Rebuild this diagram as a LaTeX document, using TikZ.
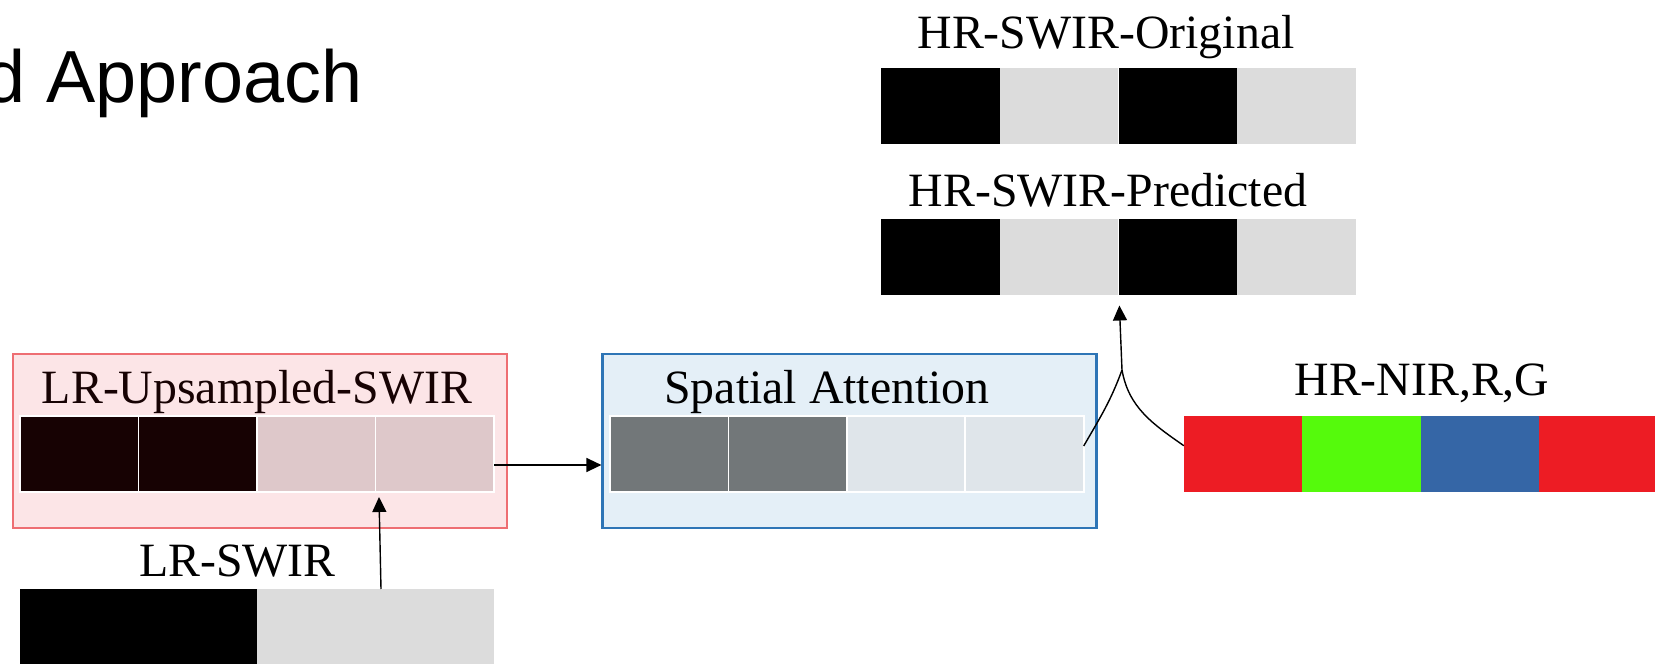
\documentclass[tikz,border=0pt]{standalone}
\usepackage{fontspec}
\setmainfont{Liberation Serif}
\newfontfamily\headfont{Liberation Sans}
\usetikzlibrary{arrows.meta,positioning,calc,fit}
\definecolor{LrDark}{HTML}{170203}
\definecolor{LrLight}{HTML}{DEC8CA}
\definecolor{LrFill}{HTML}{FCE5E7}
\definecolor{LrEdge}{HTML}{EE6E73}
\definecolor{SaDark}{HTML}{727779}
\definecolor{SaLight}{HTML}{DFE5EA}
\definecolor{SaFill}{HTML}{E4EFF7}
\definecolor{SaEdge}{HTML}{2E75B6}
\definecolor{HrGrey}{HTML}{DCDCDC}
\definecolor{NirRed}{HTML}{ED1C24}
\definecolor{NirGreen}{HTML}{55FA0C}
\definecolor{NirBlue}{HTML}{3566A6}
\tikzset{
  pix/.style={minimum width=11.85mm,minimum height=7.6mm,inner sep=0pt,outer sep=0pt,anchor=north west},
  sep/.style={draw=white,line width=0.5pt},
  lrpanel/.style={draw=LrEdge,fill=LrFill,line width=0.6pt,minimum width=49.4mm,minimum height=17.4mm,inner sep=0pt,anchor=north west},
  sapanel/.style={draw=SaEdge,fill=SaFill,line width=0.6pt,minimum width=49.4mm,minimum height=17.4mm,inner sep=0pt,anchor=north west},
  barlabel/.style={font=\fontsize{13.6}{16}\selectfont,inner sep=0pt,anchor=base},
  arrow/.style={-{Triangle[length=1.5mm,width=1.4mm]},line width=0.4pt},
  link/.style={line width=0.4pt}
}
\begin{document}
\begin{tikzpicture}[x=0.1mm,y=-0.1mm]
\path[use as bounding box,clip] (0,0) rectangle (1655,664);
\node[font=\headfont\fontsize{21}{25}\selectfont,inner sep=0pt,anchor=base east] (title) at (363,103) {d Approach};
% panels
\node[lrpanel] (lrbox) at (11.7,353.3) {};
\node[sapanel] (sabox) at (601.4,353.3) {};
% bars
\foreach \c [count=\i] in {LrDark,LrDark,LrLight,LrLight}
  \node[pix,sep,fill=\c] (up\i) at ({20+(\i-1)*118.5},416) {};
\foreach \c [count=\i] in {SaDark,SaDark,SaLight,SaLight}
  \node[pix,sep,fill=\c] (sa\i) at ({610+(\i-1)*118.4},416) {};
\node[pix,fill=black,minimum width=23.7mm] (lr1) at (20,589) {};
\node[pix,fill=HrGrey,minimum width=23.7mm] (lr2) at (257,589) {};
\foreach \c [count=\i] in {black,HrGrey,black,HrGrey}{
  \node[pix,fill=\c] (org\i) at ({881+(\i-1)*118.75},68) {};
  \node[pix,fill=\c] (pred\i) at ({881+(\i-1)*118.75},219.3) {};
}
\foreach \c [count=\i] in {NirRed,NirGreen,NirBlue,NirRed}
  \node[pix,fill=\c] (nir\i) at ({1183.8+(\i-1)*118.5},415.7) {};
\node[fit=(pred1)(pred4),inner sep=0pt] (predbar) {};
% labels
\node[barlabel,text=LrDark] (uplbl) at (257,404) {LR-Upsampled-SWIR};
\node[barlabel] (lrlbl) at (237.5,577) {LR-SWIR};
\node[barlabel] (salbl) at (827,404) {Spatial Attention};
\node[barlabel] (orglbl) at (1106,49) {HR-SWIR-Original};
\node[barlabel] (predlbl) at (1108,207) {HR-SWIR-Predicted};
\node[barlabel] (nirlbl) at (1422,396) {HR-NIR,R,G};
% connectors
\draw[arrow] ([yshift=-1.1mm]up4.east) -- ([yshift=-1.1mm]up4.east -| sabox.west);
\draw[arrow] ([xshift=0.55mm]lr2.north) -- ([xshift=0.35mm,yshift=-0.5mm]up4.south west);
\coordinate (merge) at (1122,370);
\draw[link] ([yshift=0.8mm]sa4.east) to[out=60,in=-110] (merge);
\draw[link] ([yshift=0.8mm]nir1.west) to[out=145,in=-80] (merge);
\draw[arrow] (merge) -- ([xshift=0.1mm,yshift=-0.95mm]predbar.south);
\end{tikzpicture}
\end{document}
